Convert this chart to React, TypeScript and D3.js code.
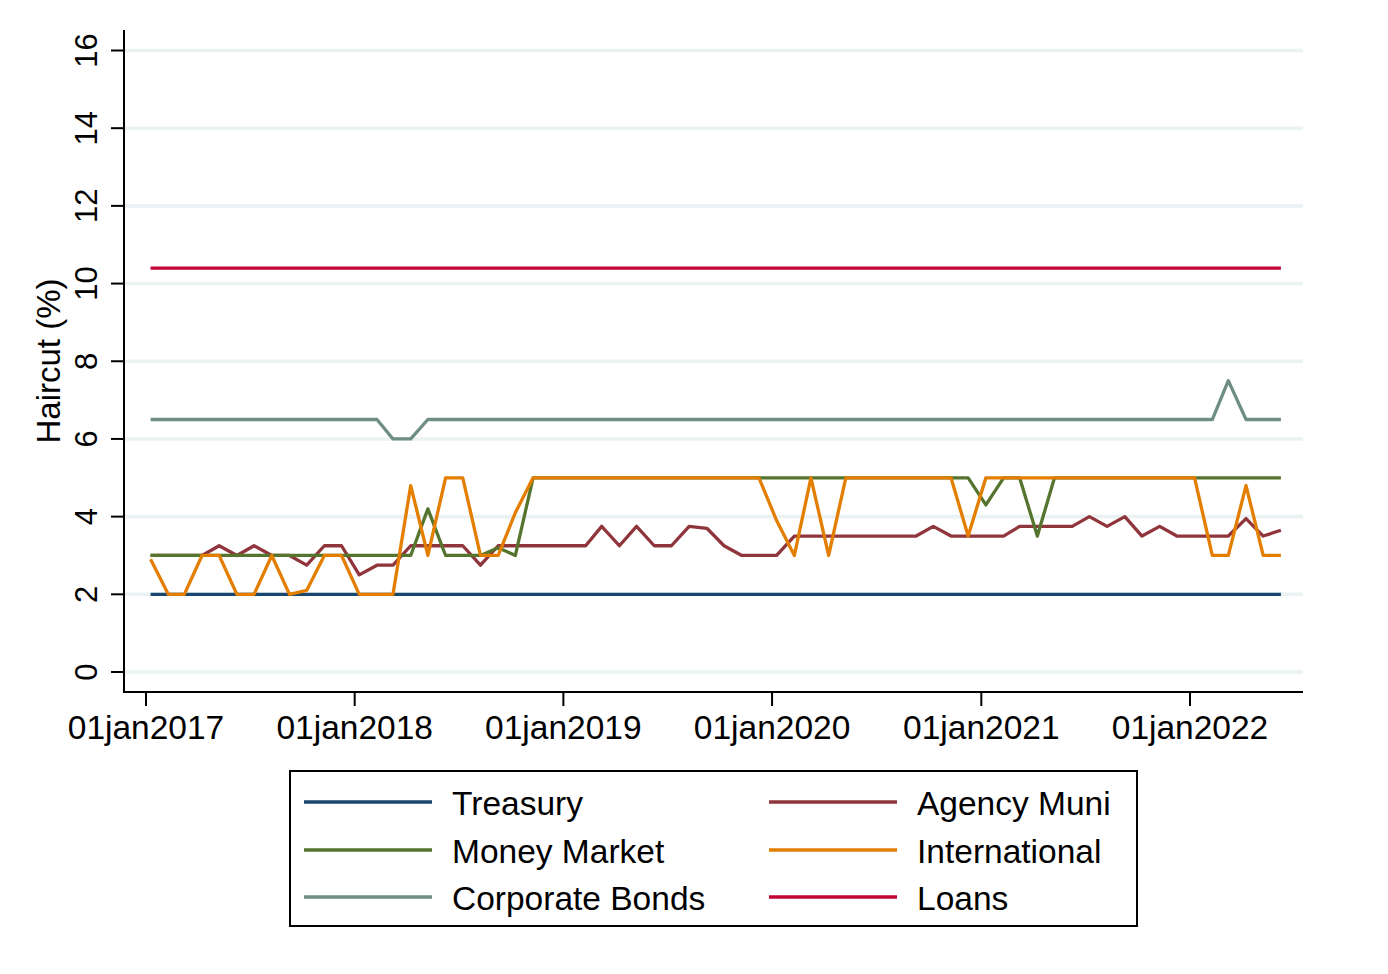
import React from "react";
import * as d3 from "d3";

// Monthly observations, Jan 2017 .. Jun 2022 (66 points)
const START_YEAR = 2017;
const N_MONTHS = 66;

const treasury = [
  2, 2, 2, 2, 2, 2, 2, 2, 2, 2, 2, 2,
  2, 2, 2, 2, 2, 2, 2, 2, 2, 2, 2, 2,
  2, 2, 2, 2, 2, 2, 2, 2, 2, 2, 2, 2,
  2, 2, 2, 2, 2, 2, 2, 2, 2, 2, 2, 2,
  2, 2, 2, 2, 2, 2, 2, 2, 2, 2, 2, 2,
  2, 2, 2, 2, 2, 2,
];

const agencyMuni = [
  3.0, 3.0, 3.0, 3.0, 3.25, 3.0, 3.25, 3.0, 3.0, 2.75, 3.25, 3.25,
  2.5, 2.75, 2.75, 3.25, 3.25, 3.25, 3.25, 2.75, 3.25, 3.25, 3.25, 3.25,
  3.25, 3.25, 3.75, 3.25, 3.75, 3.25, 3.25, 3.75, 3.7, 3.25, 3.0, 3.0,
  3.0, 3.5, 3.5, 3.5, 3.5, 3.5, 3.5, 3.5, 3.5, 3.75, 3.5, 3.5,
  3.5, 3.5, 3.75, 3.75, 3.75, 3.75, 4.0, 3.75, 4.0, 3.5, 3.75, 3.5,
  3.5, 3.5, 3.5, 3.95, 3.5, 3.65,
];

const moneyMarket = [
  3.0, 3.0, 3.0, 3.0, 3.0, 3.0, 3.0, 3.0, 3.0, 3.0, 3.0, 3.0,
  3.0, 3.0, 3.0, 3.0, 4.2, 3.0, 3.0, 3.0, 3.2, 3.0, 5.0, 5.0,
  5.0, 5.0, 5.0, 5.0, 5.0, 5.0, 5.0, 5.0, 5.0, 5.0, 5.0, 5.0,
  5.0, 5.0, 5.0, 5.0, 5.0, 5.0, 5.0, 5.0, 5.0, 5.0, 5.0, 5.0,
  4.3, 5.0, 5.0, 3.5, 5.0, 5.0, 5.0, 5.0, 5.0, 5.0, 5.0, 5.0,
  5.0, 5.0, 5.0, 5.0, 5.0, 5.0,
];

const international = [
  2.9, 2.0, 2.0, 3.0, 3.0, 2.0, 2.0, 3.0, 2.0, 2.1, 3.0, 3.0,
  2.0, 2.0, 2.0, 4.8, 3.0, 5.0, 5.0, 3.0, 3.0, 4.1, 5.0, 5.0,
  5.0, 5.0, 5.0, 5.0, 5.0, 5.0, 5.0, 5.0, 5.0, 5.0, 5.0, 5.0,
  3.9, 3.0, 5.0, 3.0, 5.0, 5.0, 5.0, 5.0, 5.0, 5.0, 5.0, 3.5,
  5.0, 5.0, 5.0, 5.0, 5.0, 5.0, 5.0, 5.0, 5.0, 5.0, 5.0, 5.0,
  5.0, 3.0, 3.0, 4.8, 3.0, 3.0,
];

const corporateBonds = [
  6.5, 6.5, 6.5, 6.5, 6.5, 6.5, 6.5, 6.5, 6.5, 6.5, 6.5, 6.5,
  6.5, 6.5, 6.0, 6.0, 6.5, 6.5, 6.5, 6.5, 6.5, 6.5, 6.5, 6.5,
  6.5, 6.5, 6.5, 6.5, 6.5, 6.5, 6.5, 6.5, 6.5, 6.5, 6.5, 6.5,
  6.5, 6.5, 6.5, 6.5, 6.5, 6.5, 6.5, 6.5, 6.5, 6.5, 6.5, 6.5,
  6.5, 6.5, 6.5, 6.5, 6.5, 6.5, 6.5, 6.5, 6.5, 6.5, 6.5, 6.5,
  6.5, 6.5, 7.5, 6.5, 6.5, 6.5,
];

const loans = [
  10.4, 10.4, 10.4, 10.4, 10.4, 10.4, 10.4, 10.4, 10.4, 10.4, 10.4, 10.4,
  10.4, 10.4, 10.4, 10.4, 10.4, 10.4, 10.4, 10.4, 10.4, 10.4, 10.4, 10.4,
  10.4, 10.4, 10.4, 10.4, 10.4, 10.4, 10.4, 10.4, 10.4, 10.4, 10.4, 10.4,
  10.4, 10.4, 10.4, 10.4, 10.4, 10.4, 10.4, 10.4, 10.4, 10.4, 10.4, 10.4,
  10.4, 10.4, 10.4, 10.4, 10.4, 10.4, 10.4, 10.4, 10.4, 10.4, 10.4, 10.4,
  10.4, 10.4, 10.4, 10.4, 10.4, 10.4,
];

const seriesNames = ["Treasury", "Agency Muni", "Money Market", "International", "Corporate Bonds", "Loans"];
const seriesValues = [treasury, agencyMuni, moneyMarket, international, corporateBonds, loans];
const seriesColors = ["#1a476f", "#90353b", "#55752f", "#e37e00", "#6e8e84", "#c10534"];

const yTicks = [0, 2, 4, 6, 8, 10, 12, 14, 16];
const xTickYears = [2017, 2018, 2019, 2020, 2021, 2022];
const xTickLabels = ["01jan2017", "01jan2018", "01jan2019", "01jan2020", "01jan2021", "01jan2022"];

const FONT = "'Liberation Sans', Arial, Helvetica, sans-serif";

export default function App() {
  const W = 1388;
  const H = 974;
  const plotLeft = 124;
  const plotRight = 1303;
  const plotTop = 30;
  const plotBottom = 692;

  const dates = d3.range(N_MONTHS).map((i) => new Date(START_YEAR, i, 9));

  const x = d3
    .scaleTime()
    .domain([new Date(2017, 0, 1), new Date(2022, 0, 1)])
    .range([146, 1190]);
  const y = d3.scaleLinear().domain([0, 16]).range([672, 50.5]);

  const line = d3
    .line<number>()
    .x((_, i) => x(dates[i]))
    .y((v) => y(v));

  // legend layout: 2 columns, row-major
  const legendLeft = 290;
  const legendTop = 771;
  const legendW = 847;
  const legendH = 155;
  const rowYs = [802, 850, 897];
  const colX = [304, 769];

  return (
    <svg width={W} height={H} style={{ display: "block", position: "absolute", left: 0, top: 0, background: "#fff" }}>
      <rect x={0} y={0} width={W} height={H} fill="#ffffff" />
      {/* gridlines */}
      {yTicks.map((t) => (
        <line key={"g" + t} x1={plotLeft} x2={plotRight} y1={y(t)} y2={y(t)} stroke="#eaf2f3" strokeWidth={3.6} />
      ))}
      {/* series */}
      {seriesValues.map((vals, k) => (
        <path
          key={seriesNames[k]}
          d={line(vals) || ""}
          fill="none"
          stroke={seriesColors[k]}
          strokeWidth={3.3}
          strokeLinejoin="round"
        />
      ))}
      {/* axes */}
      <line x1={plotLeft} x2={plotLeft} y1={plotTop} y2={plotBottom + 1} stroke="#000" strokeWidth={2} />
      <line x1={plotLeft - 1} x2={plotRight} y1={plotBottom} y2={plotBottom} stroke="#000" strokeWidth={2} />
      {yTicks.map((t) => (
        <g key={"yt" + t}>
          <line x1={plotLeft - 13} x2={plotLeft} y1={y(t)} y2={y(t)} stroke="#000" strokeWidth={2} />
          <text
            transform={`translate(97,${y(t)}) rotate(-90)`}
            textAnchor="middle"
            fontFamily={FONT}
            fontSize={31}
            fill="#000"
          >
            {t}
          </text>
        </g>
      ))}
      {xTickYears.map((yr, i) => {
        const px = x(new Date(yr, 0, 1));
        return (
          <g key={"xt" + yr}>
            <line x1={px} x2={px} y1={plotBottom} y2={plotBottom + 14} stroke="#000" strokeWidth={2} />
            <text x={px} y={739} textAnchor="middle" fontFamily={FONT} fontSize={33.5} fill="#000">
              {xTickLabels[i]}
            </text>
          </g>
        );
      })}
      <text
        transform={`translate(60,${(plotTop + plotBottom) / 2}) rotate(-90)`}
        textAnchor="middle"
        fontFamily={FONT}
        fontSize={33}
        fill="#000"
      >
        Haircut (%)
      </text>
      {/* legend */}
      <rect x={legendLeft} y={legendTop} width={legendW} height={legendH} fill="#fff" stroke="#000" strokeWidth={2} />
      {seriesNames.map((name, k) => {
        const col = k % 2;
        const row = Math.floor(k / 2);
        const lx = colX[col];
        const ly = rowYs[row];
        return (
          <g key={"lg" + name}>
            <line x1={lx} x2={lx + 128} y1={ly} y2={ly} stroke={seriesColors[k]} strokeWidth={3.5} />
            <text x={lx + 148} y={ly + 13} fontFamily={FONT} fontSize={33.5} fill="#000">
              {name}
            </text>
          </g>
        );
      })}
    </svg>
  );
}
